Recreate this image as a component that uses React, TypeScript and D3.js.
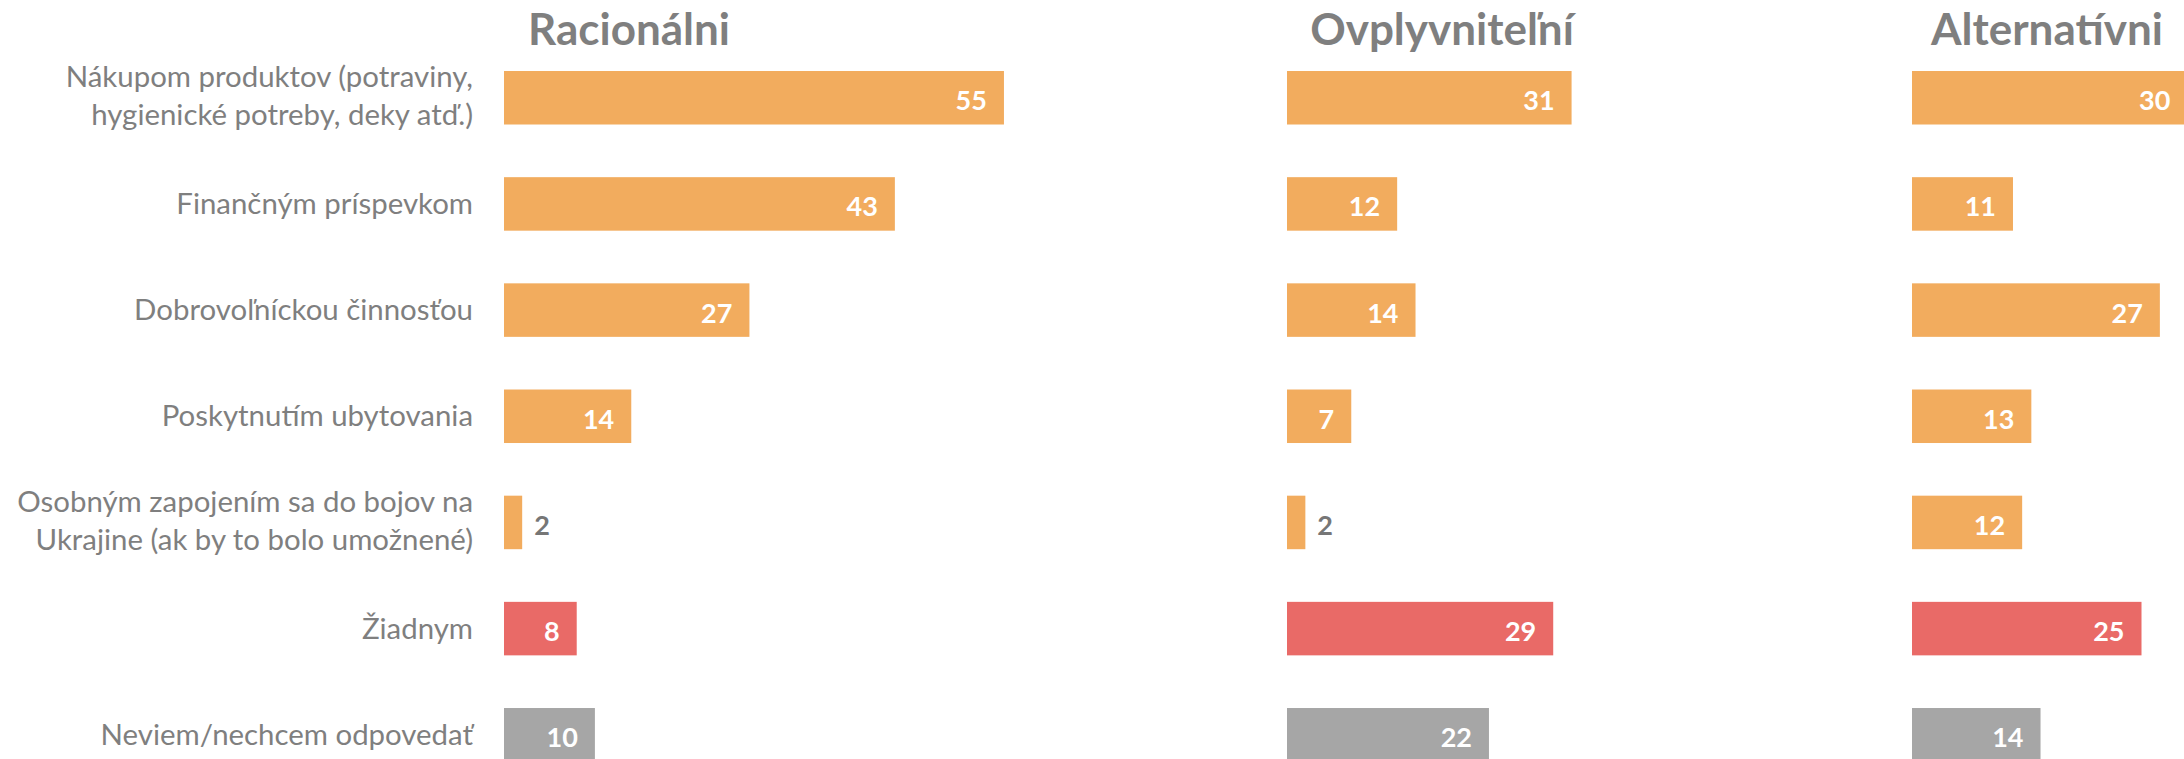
import React from "react";
import * as d3 from "d3";

const categories = [
  "Nákupom produktov (potraviny,|hygienické potreby, deky atď.)",
  "Finančným príspevkom",
  "Dobrovoľníckou činnosťou",
  "Poskytnutím ubytovania",
  "Osobným zapojením sa do bojov na|Ukrajine (ak by to bolo umožnené)",
  "Žiadnym",
  "Neviem/nechcem odpovedať",
];

const panelTitles = ["Racionálni", "Ovplyvniteľní", "Alternatívni"];
const racionalni = [55, 43, 27, 14, 2, 8, 10];
const ovplyvnitelni = [31, 12, 14, 7, 2, 29, 22];
const alternativni = [30, 11, 27, 13, 12, 25, 14];
const barKinds = ["o", "o", "o", "o", "o", "r", "g"];

const W = 2184;
const H = 759;
const FONT = "Lato, 'Open Sans', sans-serif";
const TEXT_GRAY = "#7f7f7f";
const COLORS: Record<string, string> = { o: "#F2AC5E", r: "#E96A67", g: "#A6A6A6" };

// layout per panel: bar origin, px per unit, title centre
const panels = [
  { values: racionalni, x0: 504, unit: 9.09, titleX: 629 },
  { values: ovplyvnitelni, x0: 1287, unit: 9.18, titleX: 1442 },
  { values: alternativni, x0: 1912, unit: 9.18, titleX: 2047 },
];

const step = 106.17;
const y = d3
  .scaleBand<string>()
  .domain(categories)
  .range([71 - step * 0.248, 71 - step * 0.248 + step * 7])
  .paddingInner(0.496)
  .paddingOuter(0.248);

export default function App() {
  const bw = y.bandwidth();
  return (
    <svg
      width={W}
      height={H}
      style={{ position: "absolute", left: 0, top: 0, display: "block", background: "#fff" }}
      fontFamily={FONT}
    >
      {/* category labels */}
      {categories.map((c) => {
        const cy = (y(c) as number) + bw / 2;
        const lines = c.split("|");
        if (lines.length === 1) {
          return (
            <text key={c} x={473} y={cy + 10} textAnchor="end" fontSize={29.4} fill={TEXT_GRAY}>
              {lines[0]}
            </text>
          );
        }
        return (
          <text key={c} textAnchor="end" fontSize={29.4} fill={TEXT_GRAY}>
            <tspan x={473} y={cy - 10.3}>{lines[0]}</tspan>
            <tspan x={473} y={cy + 27.6}>{lines[1]}</tspan>
          </text>
        );
      })}
      {panels.map((p, pi) => {
        const x = d3.scaleLinear().domain([0, 1]).range([p.x0, p.x0 + p.unit]);
        return (
          <g key={pi}>
            <text
              x={p.titleX}
              y={45}
              textAnchor="middle"
              fontSize={44}
              fontWeight={700}
              fill={TEXT_GRAY}
            >
              {panelTitles[pi]}
            </text>
            {categories.map((c, i) => {
              const v = p.values[i];
              const top = y(c) as number;
              const end = x(v);
              const inside = v >= 5;
              return (
                <g key={c}>
                  <rect
                    x={x(0)}
                    y={top}
                    width={end - x(0)}
                    height={bw}
                    fill={COLORS[barKinds[i]]}
                  />
                  <text
                    x={inside ? end - 17 : end + 12}
                    y={top + bw / 2 + 12.5}
                    textAnchor={inside ? "end" : "start"}
                    fontSize={27}
                    fontWeight={700}
                    fill={inside ? "#ffffff" : "#767676"}
                  >
                    {v}
                  </text>
                </g>
              );
            })}
          </g>
        );
      })}
    </svg>
  );
}
